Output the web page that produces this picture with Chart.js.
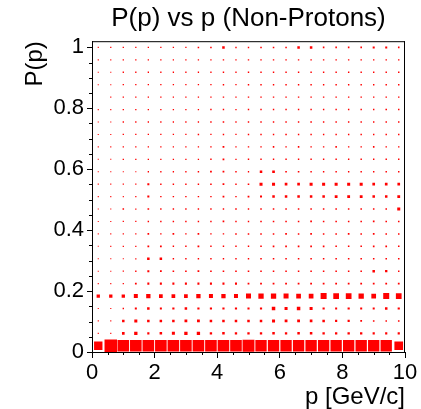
<!DOCTYPE html>
<html><head><meta charset="utf-8">
<script src="https://cdn.jsdelivr.net/npm/chart.js@4.4.1/dist/chart.umd.min.js"></script>
<style>html,body{margin:0;padding:0;background:#fff;}</style>
</head><body>
<canvas id="c" width="421" height="409" style="width:421px;height:409px;display:block"></canvas>
<script>
const TITLE = 'P(p) vs p (Non-Protons)';
const X_TITLE = 'p [GeV/c]';
const Y_TITLE = 'P(p)';
const X_BINS = 25, X_MIN = 0, X_MAX = 10;
const Y_BINS = 25, Y_MIN = 0, Y_MAX = 1.02;
const X_TICKS = [0, 2, 4, 6, 8, 10];
const Y_TICKS = [0, 0.2, 0.4, 0.6, 0.8, 1];
const X_MINOR = [0.5,1,1.5,2.5,3,3.5,4.5,5,5.5,6.5,7,7.5,8.5,9,9.5];
const Y_MINOR = [0.05,0.1,0.15,0.25,0.3,0.35,0.45,0.5,0.55,0.65,0.7,0.75,0.85,0.9,0.95];
const COUNT_MAX = 1000;
// counts[row][col], row 0 = lowest P(p) bin, col 0 = lowest p bin
const counts = [
  [450,1000,860,860,860,860,860,860,860,860,860,860,900, 820,820,820,820,820,820,820,820,820,820,820,480],
  [8,8,45,70,30,40,58,70,70,35,40,35,35, 35,40,35,40,40,35,35,35,35,30,30,30],
  [8,8,40,58,40,40,40,50,50,40,40,40,40, 40,58,50,50,45,40,30,30,20,16,14,16],
  [8,8,12,26,40,26,30,40,30,30,30,30,28, 30,78,58,78,58,30,26,30,26,26,40,30],
  [70,70,70,102,118,88,88,88,118,102,118,102,160, 180,180,160,141,141,230,208,208,180,141,230,208],
  [8,8,10,20,26,26,26,26,26,26,26,26,20, 20,20,20,20,20,20,20,20,20,20,20,20],
  [8,8,10,12,26,20,16,16,20,16,16,16,16, 15,15,15,15,15,15,15,15,15,40,35,13],
  [8,8,8,10,40,40,13,13,13,13,13,13,13, 15,15,15,15,15,15,15,15,15,15,15,15],
  [7,8,10,10,20,20,13,13,20,13,13,13,13, 15,18,18,18,18,18,15,15,15,18,18,15],
  [7,8,10,10,18,13,18,13,18,13,13,15,15, 15,15,18,15,18,15,15,18,15,18,15,15],
  [7,8,10,10,13,13,13,13,13,13,18,13,13, 15,15,15,15,18,15,15,15,15,18,15,15],
  [7,8,15,10,18,13,13,13,13,13,13,15,13, 15,15,15,15,15,15,15,15,15,15,15,58],
  [8,8,8,10,26,13,13,13,13,13,20,13,20, 26,40,40,40,40,40,50,50,50,40,40,50],
  [8,8,10,10,26,13,13,13,13,15,20,13,16, 58,58,45,45,58,58,58,58,58,45,45,45],
  [8,8,8,8,11,11,11,11,13,20,20,13,11, 40,45,16,16,13,13,13,13,13,13,13,13],
  [8,8,11,11,11,11,11,11,11,13,20,11,13, 13,13,13,13,13,13,13,13,13,13,13,13],
  [8,8,11,11,11,11,11,11,11,13,20,11,13, 13,15,13,15,13,13,15,13,13,15,13,13],
  [8,8,11,11,11,11,11,11,13,11,13,11,13, 13,13,15,13,13,13,13,13,13,13,13,13],
  [8,8,11,11,11,11,11,11,11,13,15,11,13, 13,13,13,13,15,13,13,13,13,13,13,13],
  [8,8,11,11,11,11,11,11,11,13,13,11,13, 13,13,13,13,13,13,13,13,13,13,15,13],
  [0,8,11,11,11,11,11,11,11,11,13,11,13, 13,13,13,13,13,13,13,13,13,13,13,13],
  [8,8,11,11,11,11,11,11,11,11,13,11,13, 13,13,13,13,13,13,13,13,13,13,13,13],
  [8,8,11,11,11,11,11,11,11,11,13,11,13, 13,13,13,13,13,13,13,13,13,13,13,13],
  [8,8,11,11,11,11,11,11,11,11,13,11,13, 13,13,13,13,13,13,13,13,13,13,13,13],
  [8,10,11,11,11,11,11,11,15,15,40,13,13, 15,15,15,40,40,16,16,16,16,26,26,16]
];

const FONT = 'Liberation Sans, Arial, Helvetica, sans-serif';
const binW = (X_MAX - X_MIN) / X_BINS;
const binH = (Y_MAX - Y_MIN) / Y_BINS;
const points = [];
counts.forEach((row, i) => row.forEach((v, j) => {
  if (v > 0) points.push({ x: X_MIN + (j + 0.5) * binW, y: Y_MIN + (i + 0.5) * binH, v: v });
}));

const framePlugin = {
  id: 'frame',
  afterDraw(chart) {
    const { ctx, chartArea: a, scales: { x, y } } = chart;
    ctx.save();
    ctx.strokeStyle = '#000';
    ctx.lineWidth = 1;
    ctx.beginPath();
    ctx.moveTo(a.left, a.top + 0.5); ctx.lineTo(a.right, a.top + 0.5);
    ctx.moveTo(a.right - 0.5, a.top); ctx.lineTo(a.right - 0.5, a.bottom);
    Y_MINOR.forEach(v => { const p = Math.round(y.getPixelForValue(v)) + 0.5; ctx.moveTo(a.left - 3, p); ctx.lineTo(a.left, p); });
    X_MINOR.forEach(v => { const p = Math.round(x.getPixelForValue(v)) + 0.5; ctx.moveTo(p, a.bottom); ctx.lineTo(p, a.bottom + 3); });
    ctx.stroke();
    ctx.restore();
  }
};

new Chart(document.getElementById('c'), {
  type: 'scatter',
  data: { datasets: [{
    data: points,
    pointStyle: 'rect',
    backgroundColor: '#ff0000',
    borderWidth: 0,
    pointBorderWidth: 0,
    pointRadius: (ctx) => {
      const raw = ctx.raw; if (!raw) return 0;
      const xs = ctx.chart.scales.x;
      const w = Math.abs(xs.getPixelForValue(binW) - xs.getPixelForValue(0));
      const side = w * Math.sqrt(raw.v / COUNT_MAX);
      return side / Math.SQRT2;
    },
    pointHoverRadius: 0
  }]},
  options: {
    responsive: false,
    animation: false,
    events: [],
    devicePixelRatio: 1,
    layout: { padding: { left: 0, right: 16, top: 0, bottom: 0 } },
    plugins: {
      legend: { display: false },
      tooltip: { enabled: false },
      title: {
        display: true, text: TITLE, fullSize: false, color: '#000',
        font: { family: FONT, size: 26, weight: 'normal', lineHeight: 1.2 },
        padding: { top: 3, bottom: 7 }
      }
    },
    scales: {
      x: {
        type: 'linear', min: X_MIN, max: X_MAX,
        afterBuildTicks: s => { s.ticks = X_TICKS.map(v => ({ value: v })); },
        afterFit: s => { s.height = 57; },
        ticks: { color: '#000', font: { family: FONT, size: 22 }, padding: 2, maxRotation: 0, autoSkip: false, callback: v => String(v) },
        grid: { drawOnChartArea: false, tickLength: 6, color: '#000' },
        border: { color: '#000', width: 1 },
        title: { display: true, text: X_TITLE, align: 'end', color: '#000', font: { family: FONT, size: 24, lineHeight: 1 }, padding: { top: 0, bottom: 0 } }
      },
      y: {
        type: 'linear', min: Y_MIN, max: Y_MAX,
        afterBuildTicks: s => { s.ticks = Y_TICKS.map(v => ({ value: v })); },
        afterFit: s => { s.width = 92; },
        ticks: { color: '#000', font: { family: FONT, size: 22 }, padding: 3, autoSkip: false, callback: v => String(Math.round(v * 10) / 10) },
        grid: { drawOnChartArea: false, tickLength: 5, color: '#000' },
        border: { color: '#000', width: 1 },
        title: { display: true, text: Y_TITLE, align: 'end', color: '#000', font: { family: FONT, size: 24, lineHeight: 1 }, padding: { top: 23, bottom: 0 } }
      }
    }
  },
  plugins: [framePlugin]
});
</script>
</body></html>
